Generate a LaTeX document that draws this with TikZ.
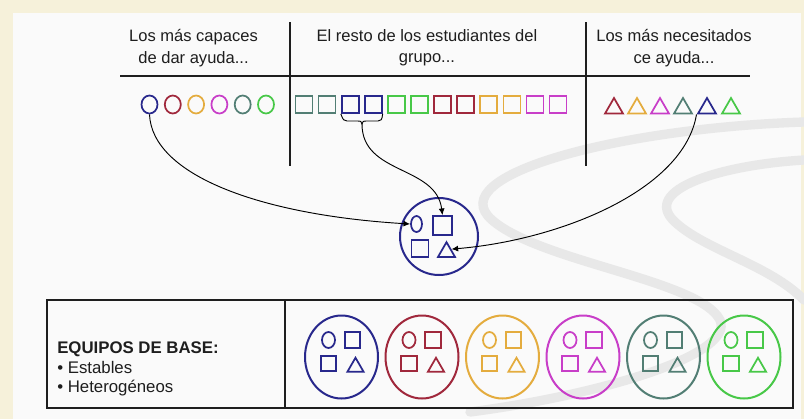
\documentclass[tikz,border=0pt]{standalone}
\usepackage{fontspec}
\setmainfont{Liberation Sans}
\usetikzlibrary{shapes.geometric}
\usetikzlibrary{arrows.meta}

\definecolor{cblue}{RGB}{40,40,140}
\definecolor{cred}{RGB}{160,40,60}
\definecolor{cyellow}{RGB}{228,172,62}
\definecolor{cmagenta}{RGB}{200,62,200}
\definecolor{cteal}{RGB}{82,126,116}
\definecolor{cgreen}{RGB}{72,200,72}
\definecolor{cream}{RGB}{246,241,218}
\definecolor{swirl}{RGB}{232,232,232}
\definecolor{ink}{RGB}{30,30,30}

\begin{document}
\begin{tikzpicture}[x=0.75pt,y=0.75pt,yscale=-1,xscale=1,
	ring/.style={ellipse, draw=#1, line width=1.3pt, minimum width=12pt, minimum height=13.5pt, inner sep=0pt},
	box/.style={rectangle, draw=#1, line width=1.3pt, minimum size=12.75pt, inner sep=0pt},
	tri/.style={regular polygon, regular polygon sides=3, draw=#1, line width=1.3pt, minimum size=15.6pt, inner sep=0pt},
	team/.style={ellipse, draw=#1, line width=1.5pt, minimum width=54.75pt, minimum height=62.25pt, inner sep=0pt},
	sring/.style={ring=#1, minimum width=9.75pt, minimum height=12pt},
	sbox/.style={box=#1, minimum size=11.5pt},
	stri/.style={tri=#1, minimum size=13.9pt},
	arr/.style={-{Latex[length=5pt,width=4.5pt]}, line width=0.7pt, draw=black},
	rule/.style={line width=1.5pt, draw=ink},
	swoosh/.style={draw=swirl, line width=7pt, line cap=round},
	txt/.style={text=ink, inner sep=0pt, font=\fontsize{12.4pt}{16pt}\selectfont}
	]
	\useasboundingbox (0,0) rectangle (804,419);
	
	%Background
	\fill [cream] (0,0) rectangle (804,419);
	\fill [white!98!black] (13,13) rectangle (801,419);
	\draw [swoosh] (804,122) .. controls (620,128) and (440,175) .. (492,220) .. controls (540,262) and (700,280) .. (720,320) .. controls (735,355) and (600,395) .. (470,412);
	\draw [swoosh] (804,160) .. controls (720,165) and (640,190) .. (675,222) .. controls (705,250) and (770,265) .. (804,300);
	
	%Straight Lines
	\draw [rule] (120,76) -- (750,76);
	\draw [rule] (290,22) -- (290,166);
	\draw [rule] (586,22) -- (586,166);
	
	% Text Node
	\node [txt, align=center] (hcap) at (193.5,48) {Los más capaces\\de dar ayuda...};
	% Text Node
	\node [txt, align=center] (hrest) at (427,48) {El resto de los estudiantes del\\grupo...};
	% Text Node
	\node [txt, align=center] (hnec) at (674,48) {Los más necesitados\\ce ayuda...};
	
	%Shape: Circle
	\node [ring=cblue] (cap1) at (149.5,104.5) {};
	\node [ring=cred] (cap2) at (172.8,104.5) {};
	\node [ring=cyellow] (cap3) at (196.1,104.5) {};
	\node [ring=cmagenta] (cap4) at (219.4,104.5) {};
	\node [ring=cteal] (cap5) at (242.7,104.5) {};
	\node [ring=cgreen] (cap6) at (266,104.5) {};
	
	%Shape: Square
	\node [box=cteal] (rest1) at (304,104.5) {};
	\node [box=cteal] (rest2) at (327.1,104.5) {};
	\node [box=cblue] (rest3) at (350.2,104.5) {};
	\node [box=cblue] (rest4) at (373.3,104.5) {};
	\node [box=cgreen] (rest5) at (396.4,104.5) {};
	\node [box=cgreen] (rest6) at (419.5,104.5) {};
	\node [box=cred] (rest7) at (442.6,104.5) {};
	\node [box=cred] (rest8) at (465.7,104.5) {};
	\node [box=cyellow] (rest9) at (488.8,104.5) {};
	\node [box=cyellow] (rest10) at (511.9,104.5) {};
	\node [box=cmagenta] (rest11) at (535,104.5) {};
	\node [box=cmagenta] (rest12) at (558.1,104.5) {};
	
	%Shape: Triangle
	\node [tri=cred] (nec1) at (614,108.4) {};
	\node [tri=cyellow] (nec2) at (637,108.4) {};
	\node [tri=cmagenta] (nec3) at (660,108.4) {};
	\node [tri=cteal] (nec4) at (683,108.4) {};
	\node [tri=cblue] (nec5) at (707,108.4) {};
	\node [tri=cgreen] (nec6) at (731,108.4) {};
	
	%Shape: Brace
	\coordinate (brace) at (362,124);
	\draw [line width=0.7pt] (rest3.south west) .. controls (343,120) and (344,121) .. (347,121) -- (358,121) .. controls (361,121) .. (brace) .. controls (363,121) .. (366,121) -- (378,121) .. controls (381,121) and (382,120) .. (rest4.south east);
	
	%Shape: Circle (new team)
	\node [team=cblue, minimum width=58.5pt, minimum height=57.75pt] (grp) at (439,236.5) {};
	\node [ring=cblue, minimum width=8.25pt, minimum height=12pt] (grpO) at (416.5,224) {};
	\node [box=cblue, minimum size=14.25pt] (grpS) at (442.5,225.5) {};
	\node [box=cblue] (grpQ) at (420,248.5) {};
	\node [tri=cblue, minimum size=14.7pt] (grpT) at (446.5,252) {};
	
	%Curve Lines
	\draw [arr] (cap1.south) .. controls (152,175) and (260,215) .. (grpO.west);
	\draw [arr] (brace) .. controls (362,175) and (436,165) .. (grpS.north);
	\draw [arr] (nec5.corner 2) .. controls (684,190) and (560,240) .. (grpT.side 3);
	
	%Shape: Rectangle
	\draw [rule] (47,300) rectangle (793,408);
	\draw [rule] (285,300) -- (285,408);
	
	% Text Node
	\node [txt, anchor=west, align=left, font=\fontsize{12.6pt}{14.8pt}\selectfont] (base) at (57,369) {\textbf{EQUIPOS DE BASE:}\\• Estables\\• Heterogéneos};
	
	%Shape: Circle (teams)
	\node [team=cblue] (eq1) at (341.5,357) {};
	\node [sring=cblue] (eq1o) at (328.5,340) {};
	\node [sbox=cblue] (eq1s) at (352.5,340) {};
	\node [sbox=cblue] (eq1q) at (328.5,363.5) {};
	\node [stri=cblue] (eq1t) at (355.5,367) {};
	
	\node [team=cred] (eq2) at (422,357) {};
	\node [sring=cred] (eq2o) at (409,340) {};
	\node [sbox=cred] (eq2s) at (433,340) {};
	\node [sbox=cred] (eq2q) at (409,363.5) {};
	\node [stri=cred] (eq2t) at (436,367) {};
	
	\node [team=cyellow] (eq3) at (502.5,357) {};
	\node [sring=cyellow] (eq3o) at (489.5,340) {};
	\node [sbox=cyellow] (eq3s) at (513.5,340) {};
	\node [sbox=cyellow] (eq3q) at (489.5,363.5) {};
	\node [stri=cyellow] (eq3t) at (516.5,367) {};
	
	\node [team=cmagenta] (eq4) at (583,357) {};
	\node [sring=cmagenta] (eq4o) at (570,340) {};
	\node [sbox=cmagenta] (eq4s) at (594,340) {};
	\node [sbox=cmagenta] (eq4q) at (570,363.5) {};
	\node [stri=cmagenta] (eq4t) at (597,367) {};
	
	\node [team=cteal] (eq5) at (663.5,357) {};
	\node [sring=cteal] (eq5o) at (650.5,340) {};
	\node [sbox=cteal] (eq5s) at (674.5,340) {};
	\node [sbox=cteal] (eq5q) at (650.5,363.5) {};
	\node [stri=cteal] (eq5t) at (677.5,367) {};
	
	\node [team=cgreen] (eq6) at (744,357) {};
	\node [sring=cgreen] (eq6o) at (731,340) {};
	\node [sbox=cgreen] (eq6s) at (755,340) {};
	\node [sbox=cgreen] (eq6q) at (731,363.5) {};
	\node [stri=cgreen] (eq6t) at (758,367) {};
	
\end{tikzpicture}
\end{document}
